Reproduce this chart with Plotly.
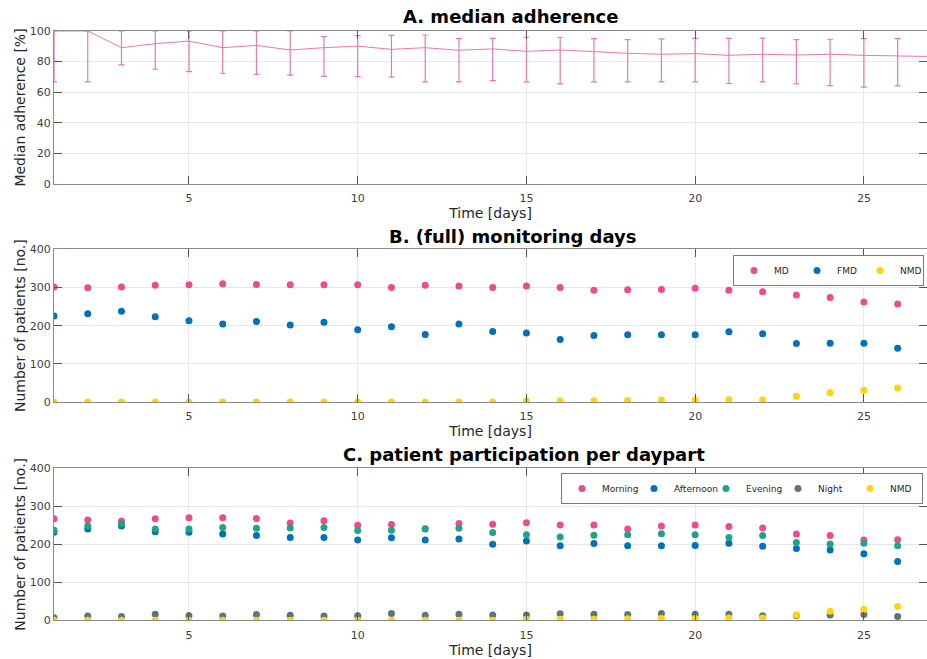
import plotly.graph_objects as go

days = list(range(1, 28))
days26 = list(range(1, 27))

# Panel A: median adherence (%) with lower/upper bounds
adh_median = [100, 100, 89.1, 91.7, 93.4, 89.1, 90.6, 87.6, 89.1, 90.1, 88.0, 89.1, 87.4,
              88.3, 86.7, 87.6, 86.5, 85.4, 84.8, 85.2, 84.1, 84.8, 84.3, 84.8, 84.1, 83.5, 83.3]
adh_upper = [100, 100, 100, 100, 100, 100, 100, 100, 96.3, 97.0, 97.2, 97.4, 95.0,
             95.2, 95.9, 95.9, 95.0, 94.3, 94.8, 95.2, 95.2, 95.4, 94.3, 94.6, 95.0, 95.0, 95.0]
adh_lower = [66.7, 66.7, 77.8, 75.0, 73.5, 72.4, 71.7, 71.1, 70.4, 70.2, 69.8, 66.7, 66.7,
             67.6, 66.7, 65.4, 66.7, 66.7, 66.7, 66.7, 65.7, 66.7, 65.4, 64.3, 63.3, 64.1, 64.0]

# Panel B: (full) monitoring days
md = [301, 299, 301, 306, 307, 310, 308, 307, 307, 307, 300, 306, 304,
      300, 304, 300, 293, 294, 295, 298, 293, 289, 280, 274, 262, 257]
fmd = [225, 231, 238, 223, 213, 204, 211, 202, 209, 189, 197, 177, 204,
       185, 181, 164, 174, 176, 176, 176, 184, 179, 153, 154, 154, 141]
nmd_b = [0, 0, 0, 0, 0, 0, 0, 0, 0, 0, 0, 0, 0,
         0, 3, 3, 3, 4, 5, 5, 6, 6, 15, 24, 31, 37]

# Panel C: patient participation per daypart
morning = [267, 264, 261, 267, 270, 270, 268, 256, 262, 250, 252, 241, 255,
           253, 257, 251, 251, 240, 248, 251, 247, 243, 227, 223, 211, 212]
afternoon = [232, 240, 248, 233, 232, 227, 223, 218, 218, 211, 217, 211, 214,
             200, 209, 196, 202, 196, 196, 197, 203, 195, 189, 185, 175, 155]
evening = [237, 248, 254, 240, 240, 244, 242, 243, 244, 236, 237, 240, 242,
           231, 225, 219, 224, 225, 228, 225, 218, 223, 205, 201, 203, 196]
night = [7, 11, 10, 16, 12, 11, 15, 13, 11, 12, 18, 13, 16,
         14, 14, 17, 16, 15, 18, 16, 16, 12, 12, 14, 15, 10]
nmd_c = [0, 0, 0, 0, 0, 0, 0, 0, 0, 0, 0, 0, 0,
         0, 3, 3, 3, 4, 5, 5, 6, 6, 14, 24, 29, 36]

PINK = "#EC4B8C"
BLUE = "#0072BD"
YELLOW = "#FFD40A"
TEAL = "#1FA487"
GRAY = "#627474"
LINEPINK = "#E978AC"

W, H = 927, 659
fig = go.Figure()

# Panel A
fig.add_trace(go.Scatter(
    x=days, y=adh_median, mode="lines", line=dict(color=LINEPINK, width=1),
    error_y=dict(type="data", symmetric=False,
                 array=[u - m for u, m in zip(adh_upper, adh_median)],
                 arrayminus=[m - l for m, l in zip(adh_median, adh_lower)],
                 color=LINEPINK, thickness=1.2, width=3),
    showlegend=False, xaxis="x", yaxis="y"))

# Panel B
for name, vals, col in [("MD", md, PINK), ("FMD", fmd, BLUE), ("NMD", nmd_b, YELLOW)]:
    fig.add_trace(go.Scatter(x=days26, y=vals, mode="markers", name=name,
                             marker=dict(color=col, size=7),
                             xaxis="x2", yaxis="y2", legend="legend"))

# Panel C
for name, vals, col in [("Morning", morning, PINK), ("Afternoon", afternoon, BLUE),
                        ("Evening", evening, TEAL), ("Night", night, GRAY),
                        ("NMD", nmd_c, YELLOW)]:
    fig.add_trace(go.Scatter(x=days26, y=vals, mode="markers", name=name,
                             marker=dict(color=col, size=7),
                             xaxis="x3", yaxis="y3", legend="legend2"))

def py(p):
    return 1 - p / H

xdom = [54 / W, 1.0]
ydoms = [(184, 31), (402, 249.3), (620.3, 468.3)]

TFONT = dict(family="DejaVu Sans", size=14, color="#262626")
common_x = dict(range=[1, 26.87], tickvals=[5, 10, 15, 20, 25], ticks="inside", ticklen=8,
                tickcolor="#555", showline=True, linecolor="#8a8a8a", linewidth=1.2,
                mirror="ticks", showgrid=True, gridcolor="#e8e8e8", zeroline=False,
                automargin=False, ticklabelstandoff=4,
                tickfont=dict(family="DejaVu Sans", size=11, color="#404040"),
                title=dict(text="Time [days]", font=TFONT, standoff=2),
                domain=xdom)
common_y = dict(ticks="inside", ticklen=8, tickcolor="#555", showline=True, linecolor="#8a8a8a",
                linewidth=1.2, mirror="ticks", showgrid=True, gridcolor="#e8e8e8", zeroline=False,
                automargin=False,
                tickfont=dict(family="DejaVu Sans", size=11, color="#404040"))

layout_axes = {}
for i, (bot, top) in enumerate(ydoms):
    sx = "" if i == 0 else str(i + 1)
    layout_axes["xaxis" + sx] = dict(common_x, anchor="y" + sx)
    yd = dict(common_y, domain=[py(bot), py(top)], anchor="x" + sx)
    if i == 0:
        yd.update(range=[0, 100], tickvals=[0, 20, 40, 60, 80, 100],
                  title=dict(text="Median adherence [%]", font=TFONT, standoff=0))
    else:
        yd.update(range=[0, 400], tickvals=[0, 100, 200, 300, 400],
                  title=dict(text="Number of patients [no.]", font=TFONT, standoff=0))
    layout_axes["yaxis" + sx] = yd

fig.update_layout(**layout_axes)

leg_common = dict(orientation="h", xanchor="right", yanchor="top", bgcolor="white",
                  bordercolor="#7a7a7a", borderwidth=1,
                  font=dict(family="DejaVu Sans", size=9, color="#262626"),
                  itemwidth=30, entrywidthmode="pixels", tracegroupgap=0)
fig.update_layout(
    legend=dict(leg_common, x=924 / W, y=py(255), entrywidth=18),
    legend2=dict(leg_common, x=923 / W, y=py(473), entrywidth=27),
)

titles = [("A. median adherence", 510, 17), ("B. (full) monitoring days", 513, 236),
          ("C. patient participation per daypart", 524, 454)]
for text, xp, yp in titles:
    fig.add_annotation(text="<b>" + text + "</b>", x=xp / W, y=py(yp), xref="paper", yref="paper",
                       showarrow=False, xanchor="center", yanchor="middle",
                       font=dict(family="DejaVu Sans", size=18, color="black"))

fig.update_layout(width=W, height=H, margin=dict(l=0, r=0, t=0, b=0, autoexpand=False),
                  paper_bgcolor="white", plot_bgcolor="white", showlegend=True)

fig.write_html("out.html", config={"displayModeBar": False},
               post_script="document.body.style.margin='0';document.body.style.overflow='hidden';")
